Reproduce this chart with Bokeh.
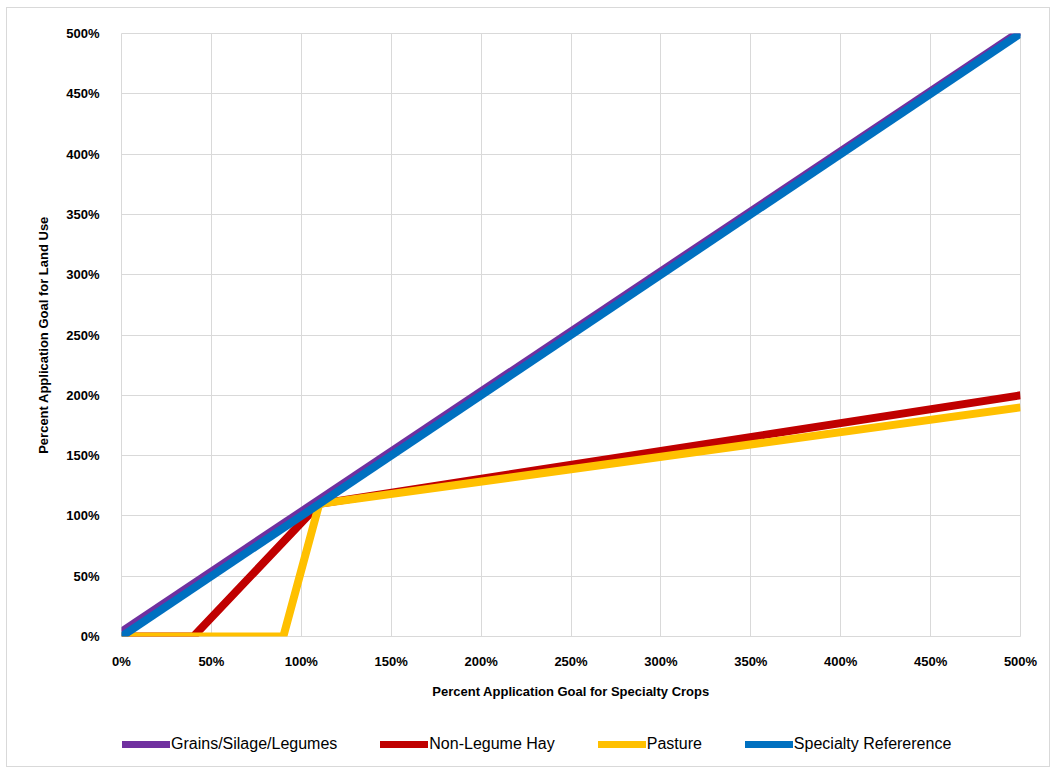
from bokeh.plotting import figure
from bokeh.layouts import column
from bokeh.models import Range1d, NumeralTickFormatter, SingleIntervalTicker, Legend, LegendItem
from bokeh.embed import file_html
from bokeh.resources import INLINE

# Data (fractions, 1.0 = 100%)
spec_x = [0.0, 5.0]
spec_y = [0.0, 5.0]
grains_x = [0.0, 5.0]
grains_y = [0.04, 5.02]
hay_x = [0.0, 0.4, 1.1, 5.0]
hay_y = [0.0, 0.0, 1.1, 2.0]
pasture_x = [0.0, 0.9, 1.1, 5.0]
pasture_y = [0.0, 0.0, 1.1, 1.9]

names = ["Grains/Silage/Legumes", "Non-Legume Hay", "Pasture", "Specialty Refererence"]
colors = ["#7030A0", "#C00000", "#FFC000", "#0070C0"]

FONT = "Liberation Sans"

p = figure(width=1042, height=703, output_backend="svg", toolbar_location=None,
           x_range=Range1d(0, 5), y_range=Range1d(0, 5),
           min_border_left=114, min_border_right=29, min_border_top=25, min_border_bottom=75)

p.line(hay_x, hay_y, line_width=8, color=colors[1])
p.line(pasture_x, pasture_y, line_width=8, color=colors[2])
p.line(grains_x, grains_y, line_width=8, color=colors[0])
p.line(spec_x, spec_y, line_width=8, color=colors[3])

for ax in (p.xaxis, p.yaxis):
    ax.ticker = SingleIntervalTicker(interval=0.5)
    ax.formatter = NumeralTickFormatter(format="0%")
    ax.axis_line_color = None
    ax.major_tick_line_color = None
    ax.minor_tick_line_color = None
    ax.major_label_text_font = FONT
    ax.major_label_text_font_style = "bold"
    ax.major_label_text_font_size = "13px"
    ax.major_label_text_color = "#000000"
    ax.axis_label_text_font = FONT
    ax.axis_label_text_font_style = "bold"
    ax.axis_label_text_font_size = "13px"
    ax.axis_label_text_color = "#000000"

p.xaxis.axis_label = "Percent Application Goal for Specialty Crops"
p.yaxis.axis_label = "Percent Application Goal for Land Use"
p.xaxis.major_label_standoff = 11
p.yaxis.major_label_standoff = 16
p.xaxis.axis_label_standoff = 12
p.yaxis.axis_label_standoff = 12

p.xgrid.grid_line_color = "#d9d9d9"
p.ygrid.grid_line_color = "#d9d9d9"
p.outline_line_color = "#d9d9d9"

# Legend strip (its lines lie outside the visible range; only the legend shows)
q = figure(width=1042, height=55, output_backend="svg", toolbar_location=None,
           x_range=Range1d(10, 11), y_range=Range1d(10, 11),
           x_axis_location=None, y_axis_location=None,
           min_border_left=0, min_border_right=0, min_border_top=0, min_border_bottom=0)
q.grid.visible = False
q.outline_line_color = None
lg = q.line(grains_x, grains_y, line_width=7, color=colors[0], line_cap="round")
lh = q.line(hay_x, hay_y, line_width=7, color=colors[1], line_cap="round")
lp = q.line(pasture_x, pasture_y, line_width=7, color=colors[2], line_cap="round")
ls = q.line(spec_x, spec_y, line_width=7, color=colors[3], line_cap="round")

legend = Legend(items=[
    LegendItem(label=names[0], renderers=[lg]),
    LegendItem(label=names[1], renderers=[lh]),
    LegendItem(label=names[2], renderers=[lp]),
    LegendItem(label=names[3], renderers=[ls]),
], orientation="horizontal", location=(1, 13))
legend.border_line_color = None
legend.background_fill_alpha = 0
legend.label_text_font = FONT
legend.label_text_font_size = "16px"
legend.label_text_color = "#000000"
legend.glyph_width = 48
legend.glyph_height = 18
legend.label_standoff = 1
legend.spacing = 43
legend.margin = 0
legend.padding = 0
q.add_layout(legend, "center")

layout = column(p, q, spacing=0, margin=(7, 0, 0, 6))
layout.styles = {"border": "1px solid #d9d9d9"}

open("out.html", "w").write(file_html(layout, INLINE))
